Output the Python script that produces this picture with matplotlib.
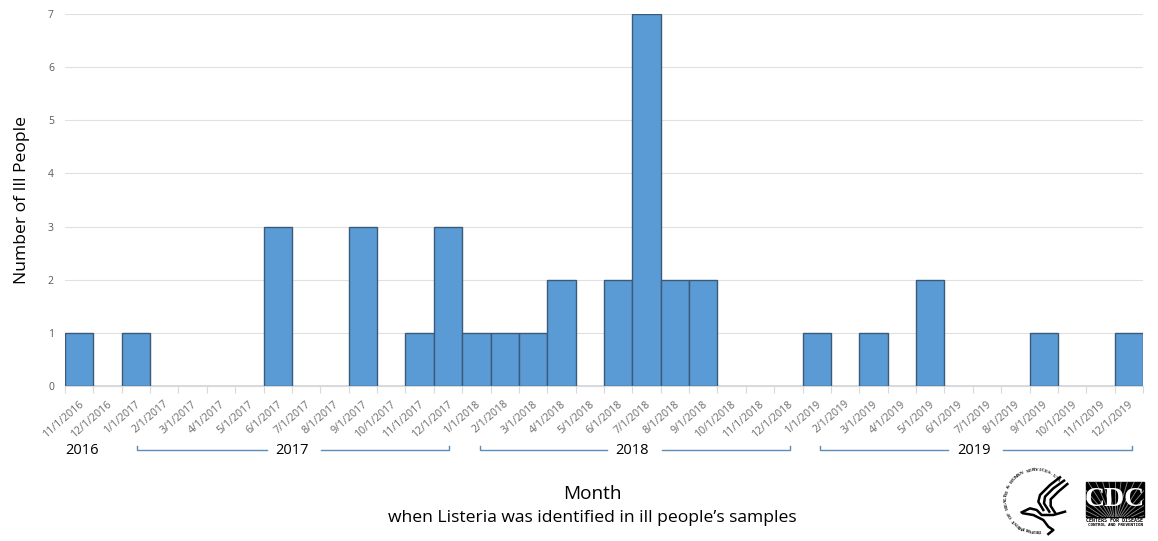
import matplotlib
matplotlib.use("Agg")
import matplotlib.pyplot as plt
from matplotlib.lines import Line2D
from matplotlib.patches import Rectangle
import numpy as np

W, H = 1158, 541

months = ["11/1/2016", "12/1/2016",
          "1/1/2017", "2/1/2017", "3/1/2017", "4/1/2017", "5/1/2017", "6/1/2017",
          "7/1/2017", "8/1/2017", "9/1/2017", "10/1/2017", "11/1/2017", "12/1/2017",
          "1/1/2018", "2/1/2018", "3/1/2018", "4/1/2018", "5/1/2018", "6/1/2018",
          "7/1/2018", "8/1/2018", "9/1/2018", "10/1/2018", "11/1/2018", "12/1/2018",
          "1/1/2019", "2/1/2019", "3/1/2019", "4/1/2019", "5/1/2019", "6/1/2019",
          "7/1/2019", "8/1/2019", "9/1/2019", "10/1/2019", "11/1/2019", "12/1/2019"]
ill_people = [1, 0,
              1, 0, 0, 0, 0, 3, 0, 0, 3, 0, 1, 3,
              1, 1, 1, 2, 0, 2, 7, 2, 2, 0, 0, 0,
              1, 0, 1, 0, 2, 0, 0, 0, 1, 0, 0, 1]
y_ticks = [0, 1, 2, 3, 4, 5, 6, 7]

plt.rcParams['font.family'] = ['Open Sans', 'DejaVu Sans']

fig = plt.figure(figsize=(W / 100, H / 100), dpi=100)
ax = fig.add_axes([65 / W, 1 - 386 / H, (1143 - 65) / W, (386 - 14) / H])

x = np.arange(len(months))
ax.bar(x, ill_people, width=1.0, color="#5b9bd5", edgecolor="#3a5a78", linewidth=1.0, zorder=3)
ax.set_xlim(-0.5, len(months) - 0.5)
ax.set_ylim(0, 7)
ax.set_yticks(y_ticks)
ax.grid(axis="y", color="#e0e0e0", linewidth=0.8, zorder=0)
for s in ["top", "right", "left"]:
    ax.spines[s].set_visible(False)
ax.spines["bottom"].set_color("#d9d9d9")

# ticks sit on the bar edges, labels go under the bars
ax.set_xticks(np.arange(len(months) + 1) - 0.5)
ax.set_xticklabels([])
ax.tick_params(axis="x", length=5, color="#d9d9d9")
ax.tick_params(axis="y", length=0, labelsize=7.5, labelcolor="#595959", pad=8)
for i, m in enumerate(months):
    ax.annotate(m, (i, 0), xytext=(-0.5, -9), textcoords="offset points", rotation=41,
                ha="right", va="top", rotation_mode="anchor", fontsize=7.7, color="#6a6a6a")


def px_text(px, py, s, **kw):
    fig.text(px / W, 1 - py / H, s, ha="center", va="center", **kw)


def px_line(xs, ys, color="#5b8db8", lw=1.0):
    fig.add_artist(Line2D([p / W for p in xs], [1 - p / H for p in ys], color=color, lw=lw))


px_text(22, 200, "Number of Ill People", fontsize=12.6, rotation=90)

# year brackets
px_text(82, 451, "2016", fontsize=10.5)
for year, left, gap_l, gap_r, right in [("2017", 137, 267, 321, 449),
                                        ("2018", 480, 607, 662, 790),
                                        ("2019", 820, 948, 1003, 1132)]:
    px_text((gap_l + gap_r) / 2 - 2, 451, year, fontsize=10.5)
    px_line([left, left, gap_l], [446, 450, 450])
    px_line([gap_r, right, right], [450, 450, 446])

px_text(592, 494, "Month", fontsize=13.7)
px_text(592, 518, "when Listeria was identified in ill people’s samples", fontsize=12.6)

# HHS seal
cx, cy, r = 1036, 500, 30
seal = "DEPARTMENT OF HEALTH & HUMAN SERVICES-USA"
angles = np.linspace(-7, 228, len(seal))
for ch, a in zip(seal, angles):
    t = np.radians(a)
    fig.text((cx - r * np.sin(t)) / W, 1 - (cy + r * np.cos(t)) / H, ch, fontsize=3.7,
             family="Liberation Serif", weight="bold", rotation=180 - a,
             rotation_mode="anchor", ha="center", va="center")

# eagle strokes, traced in the 3x crop of the seal
eagle = [([210, 180, 150, 145, 160], [52, 75, 105, 125, 150], 1.8),
         ([222, 190, 165, 162, 178], [62, 85, 110, 130, 155], 1.8),
         ([232, 205, 182, 182, 195], [72, 95, 118, 138, 158], 1.8),
         ([95, 120, 140, 155, 190, 225], [157, 145, 150, 165, 165, 155], 1.8),
         ([100, 130, 160, 175, 190, 175], [160, 165, 180, 200, 210, 222], 1.8)]
for xs, ys, lw in eagle:
    px_line([990 + p / 3 for p in xs], [460 + p / 3 for p in ys], color="black", lw=lw)

# CDC logo
box = Rectangle((1086 / W, 1 - 517 / H), 58 / W, 35 / H, color="black", transform=fig.transFigure)
fig.add_artist(box)
for a in np.arange(-80, 81, 8):
    t = np.radians(a)
    ray = Line2D([1115 / W, (1115 + 70 * np.sin(t)) / W],
                 [1 - 525 / H, 1 - (525 - 70 * np.cos(t)) / H], color="#8a8a8a", lw=0.6)
    fig.add_artist(ray)
    ray.set_clip_path(box)
px_text(1115, 499, "CDC", fontsize=20, color="white", family="Liberation Serif", weight="bold")
px_text(1115, 520, "CENTERS FOR DISEASE", fontsize=3.6, weight="bold", family="DejaVu Sans Mono")
px_text(1115, 525, "CONTROL AND PREVENTION", fontsize=3.1, weight="bold", family="DejaVu Sans Mono")

fig.savefig("out.png", dpi=100)
